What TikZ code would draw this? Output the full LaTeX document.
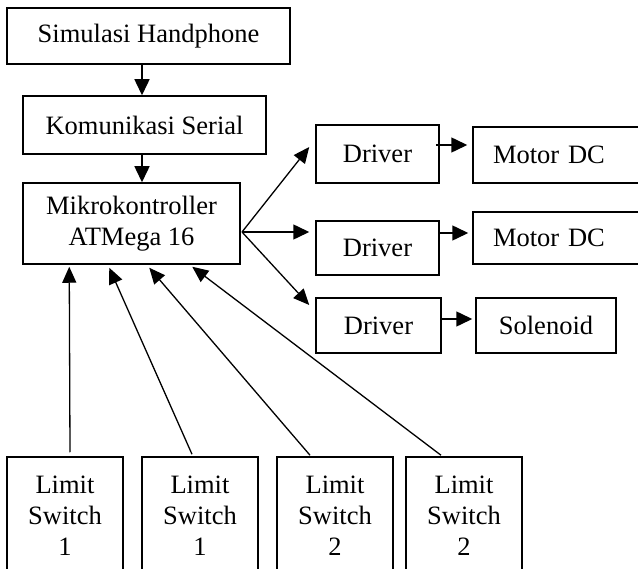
\documentclass[tikz,border=0pt]{standalone}
\usepackage{fontspec}
\setmainfont{Liberation Serif}
\usetikzlibrary{arrows.meta,calc}
\begin{document}
\begin{tikzpicture}[x=1pt,y=-1pt,
  box/.style={draw,line width=1.5pt,inner sep=0pt,align=center,font=\fontsize{26.5}{31}\selectfont},
  arr/.style={line width=1.5pt,-{Triangle[length=16pt,width=15pt]}},
  darr/.style={line width=1.3pt,-{Triangle[length=16pt,width=14pt]}}]
\useasboundingbox (0,0) rectangle (638,569);
\clip (0,0) rectangle (638,569);
% top chain
\node[box,minimum width=283pt,minimum height=56pt] (sim) at (148.5,36) {Simulasi Handphone};
\node[box,minimum width=243pt,minimum height=58pt] (kom) at (144.5,125) {Komunikasi Serial};
\node[box,minimum width=217pt,minimum height=81pt] (mk) at (131.5,223.5) {Mikrokontroller\\ATMega 16};
% drivers
\node[box,minimum width=123pt,minimum height=58pt] (d1) at (377.5,154) {Driver};
\node[box,minimum width=123pt,minimum height=54pt] (d2) at (377.5,248) {Driver};
\node[box,minimum width=125pt,minimum height=55pt] (d3) at (378.5,325.5) {Driver};
% actuators
\node[box,minimum width=190pt,minimum height=56pt,text width=150pt,inner xsep=20pt,align=left] (m1) at (568,155) {Motor DC};
\node[box,minimum width=190pt,minimum height=52pt,text width=150pt,inner xsep=20pt,align=left] (m2) at (568,238) {Motor DC};
\node[box,minimum width=140pt,minimum height=55pt] (sol) at (546,325.5) {Solenoid};
% limit switches
\node[box,minimum width=116pt,minimum height=118pt] (ls1) at (65,516) {Limit\\Switch\\1};
\node[box,minimum width=116pt,minimum height=118pt] (ls2) at (200,516) {Limit\\Switch\\1};
\node[box,minimum width=116pt,minimum height=118pt] (ls3) at (335,516) {Limit\\Switch\\2};
\node[box,minimum width=116pt,minimum height=118pt] (ls4) at (464,516) {Limit\\Switch\\2};
% helper coordinates
\coordinate (tx) at (142,0);
\coordinate (fan) at (242,232);
% vertical chain arrows
\draw[arr] (tx |- sim.south) -- (tx |- kom.north);
\draw[arr] (tx |- kom.south) -- (tx |- mk.north);
% fan out to drivers
\draw[darr] (fan) -- ($(d1.west)+(-6,-7)$);
\draw[arr] (fan) -- ($(fan -| d2.west)+(-6,0)$);
\draw[darr] (fan) -- ($(d3.west)+(-6,-20.5)$);
% drivers to actuators
\draw[arr] ($(d1.east)+(-4,-9)$) -- ($(m1.west)+(-5,-10)$);
\draw[arr] ($(d2.east)+(0,-15)$) -- ($(m2.west)+(-4,-5)$);
\draw[arr] ($(d3.east)+(-1,-6.5)$) -- ($(sol.west)+(-3,-6.5)$);
% limit switches to microcontroller
\draw[darr] ($(ls1.north)+(5,-4)$) -- ($(mk.south west)+(47,2)$);
\draw[darr] ($(ls2.north)+(-8,-2)$) -- ($(mk.south west)+(87,3)$);
\draw[darr] ($(ls3.north)+(-25,-1)$) -- ($(mk.south west)+(127,3)$);
\draw[darr] ($(ls4.north)+(-23,-1)$) -- ($(mk.south west)+(170,2)$);
\end{tikzpicture}
\end{document}
